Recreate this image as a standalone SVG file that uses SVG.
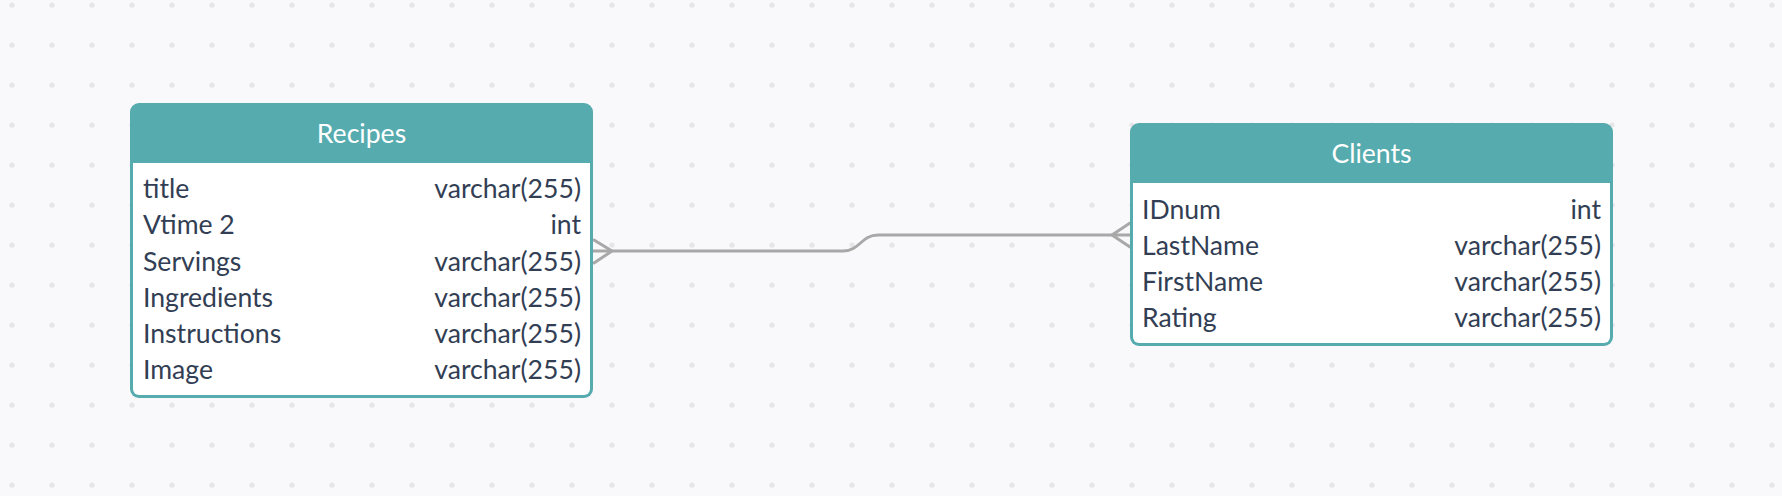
<svg xmlns="http://www.w3.org/2000/svg" width="1782" height="496" viewBox="0 0 1782 496">
  <defs>
    <pattern id="dots" x="0" y="0" width="40" height="40" patternUnits="userSpaceOnUse">
      <circle cx="12" cy="5" r="2.6" fill="#e5e5ea"/>
    </pattern>
    <style>
      .hdr { fill: #55abae; }
      .body { fill: #ffffff; }
      .title { font-family: Lato, "Open Sans", "Liberation Sans", sans-serif; font-size: 26.6px; fill: #ffffff; text-anchor: middle; }
      .fld { font-family: Lato, "Open Sans", "Liberation Sans", sans-serif; font-size: 26.6px; fill: #323e54; }
      .typ { font-family: Lato, "Open Sans", "Liberation Sans", sans-serif; font-size: 26.6px; fill: #323e54; text-anchor: end; }
      .conn { fill: none; stroke: #a8a8a8; stroke-width: 3; stroke-linecap: round; stroke-linejoin: round; }
    </style>
  </defs>
  <rect width="1782" height="496" fill="#f9f9fb"/>
  <rect width="1782" height="496" fill="url(#dots)"/>

  <g id="connectors">
    <path class="conn" d="M593,251 H843 C860,251 861,235 878,235 H1130"/>
    <path class="conn" d="M594,240 L612,251 L594,263"/>
    <path class="conn" d="M1130,223 L1112,235 L1130,247"/>
  </g>

  <g id="node-recipes">
    <rect class="hdr" x="130" y="103" width="463" height="295" rx="9"/>
    <path class="body" d="M133,163 H590 V389 A6,6 0 0 1 584,395 H139 A6,6 0 0 1 133,389 Z"/>
    <text class="title" x="361.5" y="143">Recipes</text>
    <text class="fld" x="143" y="198">title</text>
    <text class="typ" x="581" y="198">varchar(255)</text>
    <text class="fld" x="143" y="234">Vtime 2</text>
    <text class="typ" x="581" y="234">int</text>
    <text class="fld" x="143" y="271">Servings</text>
    <text class="typ" x="581" y="271">varchar(255)</text>
    <text class="fld" x="143" y="307">Ingredients</text>
    <text class="typ" x="581" y="307">varchar(255)</text>
    <text class="fld" x="143" y="343">Instructions</text>
    <text class="typ" x="581" y="343">varchar(255)</text>
    <text class="fld" x="143" y="379">Image</text>
    <text class="typ" x="581" y="379">varchar(255)</text>
  </g>

  <g id="node-clients">
    <rect class="hdr" x="1130" y="123" width="483" height="223" rx="9"/>
    <path class="body" d="M1133,183 H1610 V337 A6,6 0 0 1 1604,343 H1139 A6,6 0 0 1 1133,337 Z"/>
    <text class="title" x="1371.5" y="163">Clients</text>
    <text class="fld" x="1142" y="219">IDnum</text>
    <text class="typ" x="1601" y="219">int</text>
    <text class="fld" x="1142" y="255">LastName</text>
    <text class="typ" x="1601" y="255">varchar(255)</text>
    <text class="fld" x="1142" y="291">FirstName</text>
    <text class="typ" x="1601" y="291">varchar(255)</text>
    <text class="fld" x="1142" y="327">Rating</text>
    <text class="typ" x="1601" y="327">varchar(255)</text>
  </g>
</svg>
